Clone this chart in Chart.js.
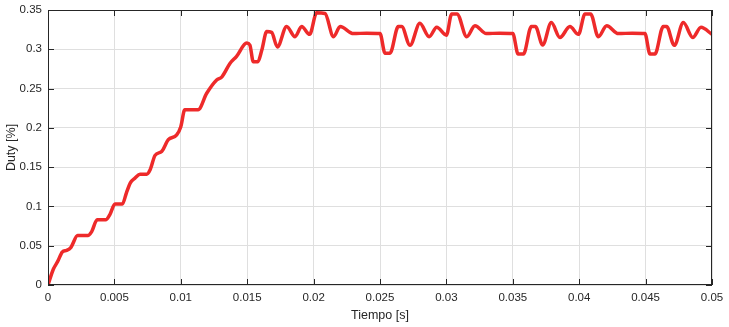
<!DOCTYPE html>
<html>
<head>
<meta charset="utf-8">
<script src="https://cdn.jsdelivr.net/npm/chart.js@4"></script>
<style>
  html, body { margin:0; padding:0; background:#fff; }
  canvas { display:block; }
</style>
</head>
<body>
<canvas id="pic_duty" width="729" height="327"></canvas>
<script>
// tiempo [s]
var tiempo = [0, 0.0004, 0.00073, 0.00108, 0.0014, 0.00173, 0.00223, 0.0030, 0.00329, 0.0037,
  0.00434, 0.00467, 0.00504, 0.0056, 0.0059, 0.0062, 0.00655, 0.00693, 0.00743, 0.0077,
  0.00806, 0.00856, 0.00906, 0.00969, 0.0100, 0.0103, 0.0113, 0.01195, 0.0127, 0.0131,
  0.0137, 0.0142, 0.01496, 0.0152, 0.01546, 0.0158, 0.0161, 0.01647, 0.01684, 0.01727,
  0.01797, 0.0186, 0.0191, 0.0197, 0.02023, 0.02086, 0.0215, 0.022, 0.023, 0.024,
  0.025, 0.02538, 0.02575, 0.02638, 0.02663, 0.02726, 0.028, 0.0287, 0.02927, 0.0300,
  0.0304, 0.0308, 0.03153, 0.03215, 0.033, 0.034, 0.035, 0.0354, 0.0358, 0.0364,
  0.0367, 0.03725, 0.0379, 0.03855, 0.0393, 0.03994, 0.04044, 0.04086, 0.04144, 0.04207,
  0.04295, 0.0440, 0.04495, 0.04533, 0.0457, 0.04633, 0.04658, 0.04716, 0.04784, 0.04855,
  0.04917, 0.0500];
// duty
var duty = [0, 0.020, 0.030, 0.042, 0.044, 0.048, 0.063, 0.063, 0.068, 0.083,
  0.083, 0.090, 0.103, 0.103, 0.117, 0.130, 0.136, 0.141, 0.141, 0.147,
  0.165, 0.170, 0.185, 0.191, 0.2015, 0.223, 0.223, 0.244, 0.261, 0.265,
  0.282, 0.291, 0.308, 0.3055, 0.284, 0.284, 0.299, 0.3225, 0.3215, 0.303,
  0.329, 0.316, 0.329, 0.319, 0.3465, 0.3455, 0.316, 0.329, 0.320, 0.3205,
  0.320, 0.295, 0.295, 0.329, 0.329, 0.305, 0.333, 0.316, 0.328, 0.318,
  0.345, 0.345, 0.316, 0.330, 0.320, 0.3205, 0.320, 0.294, 0.294, 0.329,
  0.329, 0.3055, 0.334, 0.315, 0.329, 0.319, 0.345, 0.345, 0.316, 0.330,
  0.320, 0.3205, 0.320, 0.294, 0.294, 0.329, 0.329, 0.305, 0.334, 0.315,
  0.328, 0.319];

var xTicks = ['0', '0.005', '0.01', '0.015', '0.02', '0.025', '0.03', '0.035', '0.04', '0.045', '0.05'];
var yTicks = ['0', '0.05', '0.1', '0.15', '0.2', '0.25', '0.3', '0.35'];

function init() {
    var ctx = document.getElementById('pic_duty').getContext('2d');
    var pts = tiempo.map(function (t, i) { return {x: t, y: duty[i]}; });
    var fnt = "'Liberation Sans Narrow', 'Arial Narrow', 'Liberation Sans', sans-serif";

    // caja y marcas hacia dentro (estilo matlab)
    var frame = {
        id: 'frame',
        afterDraw: function (chart) {
            var a = chart.chartArea;
            var c = chart.ctx;
            var sx = chart.scales.x, sy = chart.scales.y;
            c.save();
            c.strokeStyle = '#262626';
            c.lineWidth = 1;
            c.strokeRect(a.left + 0.5, a.top + 0.5, a.right - a.left - 1, a.bottom - a.top - 1);
            c.beginPath();
            sx.ticks.forEach(function (tk) {
                var px = Math.round(sx.getPixelForValue(tk.value)) + 0.5;
                c.moveTo(px, a.bottom); c.lineTo(px, a.bottom - 6);
                c.moveTo(px, a.top); c.lineTo(px, a.top + 6);
            });
            sy.ticks.forEach(function (tk) {
                var py = Math.round(sy.getPixelForValue(tk.value)) + 0.5;
                c.moveTo(a.left, py); c.lineTo(a.left + 6, py);
                c.moveTo(a.right, py); c.lineTo(a.right - 6, py);
            });
            c.stroke();
            c.restore();
        }
    };

    var chart = new Chart(ctx, {
        type: 'line',
        data: {
          datasets: [{
            label: 'Duty',
            data: pts,
            borderColor: '#EE2A2A',
            backgroundColor: '#EE2A2A',
            borderWidth: 3.5,
            pointRadius: 0,
            fill: false,
            cubicInterpolationMode: 'monotone',
          }]
        },
        options: {
          responsive: false,
          animation: false,
          layout: { padding: { top: 10, right: 17, left: 0, bottom: 0 } },
          plugins: { legend: { display: false }, tooltip: { enabled: false } },
          scales: {
            x: {
              type: 'linear',
              min: 0, max: 0.05,
              ticks: {
                stepSize: 0.005,
                color: '#262626',
                padding: 6,
                maxRotation: 0,
                autoSkip: false,
                font: { family: fnt, size: 11.5 },
                callback: function (v, i) { return xTicks[i]; }
              },
              grid: { color: '#DFDFDF', drawTicks: false },
              border: { display: false },
              title: { display: true, text: 'Tiempo [s]', color: '#262626',
                       font: { family: fnt, size: 12.5 }, padding: { top: 0, bottom: 4 } },
              afterFit: function (s) { s.height = 42; s.paddingLeft = 0; s.paddingRight = 0; }
            },
            y: {
              min: 0, max: 0.35,
              ticks: {
                stepSize: 0.05,
                color: '#262626',
                padding: 6,
                font: { family: fnt, size: 11.5 },
                callback: function (v, i) { return yTicks[i]; }
              },
              grid: { color: '#DFDFDF', drawTicks: false },
              border: { display: false },
              title: { display: true, text: 'Duty [%]', color: '#262626',
                       font: { family: fnt, size: 12.5 }, padding: { top: 4, bottom: 0 } },
              afterFit: function (s) { s.width = 48; s.paddingTop = 0; s.paddingBottom = 0; }
            }
          }
        },
        plugins: [frame]
    });
}
window.onload = function () {
    init();
};
</script>
</body>
</html>
